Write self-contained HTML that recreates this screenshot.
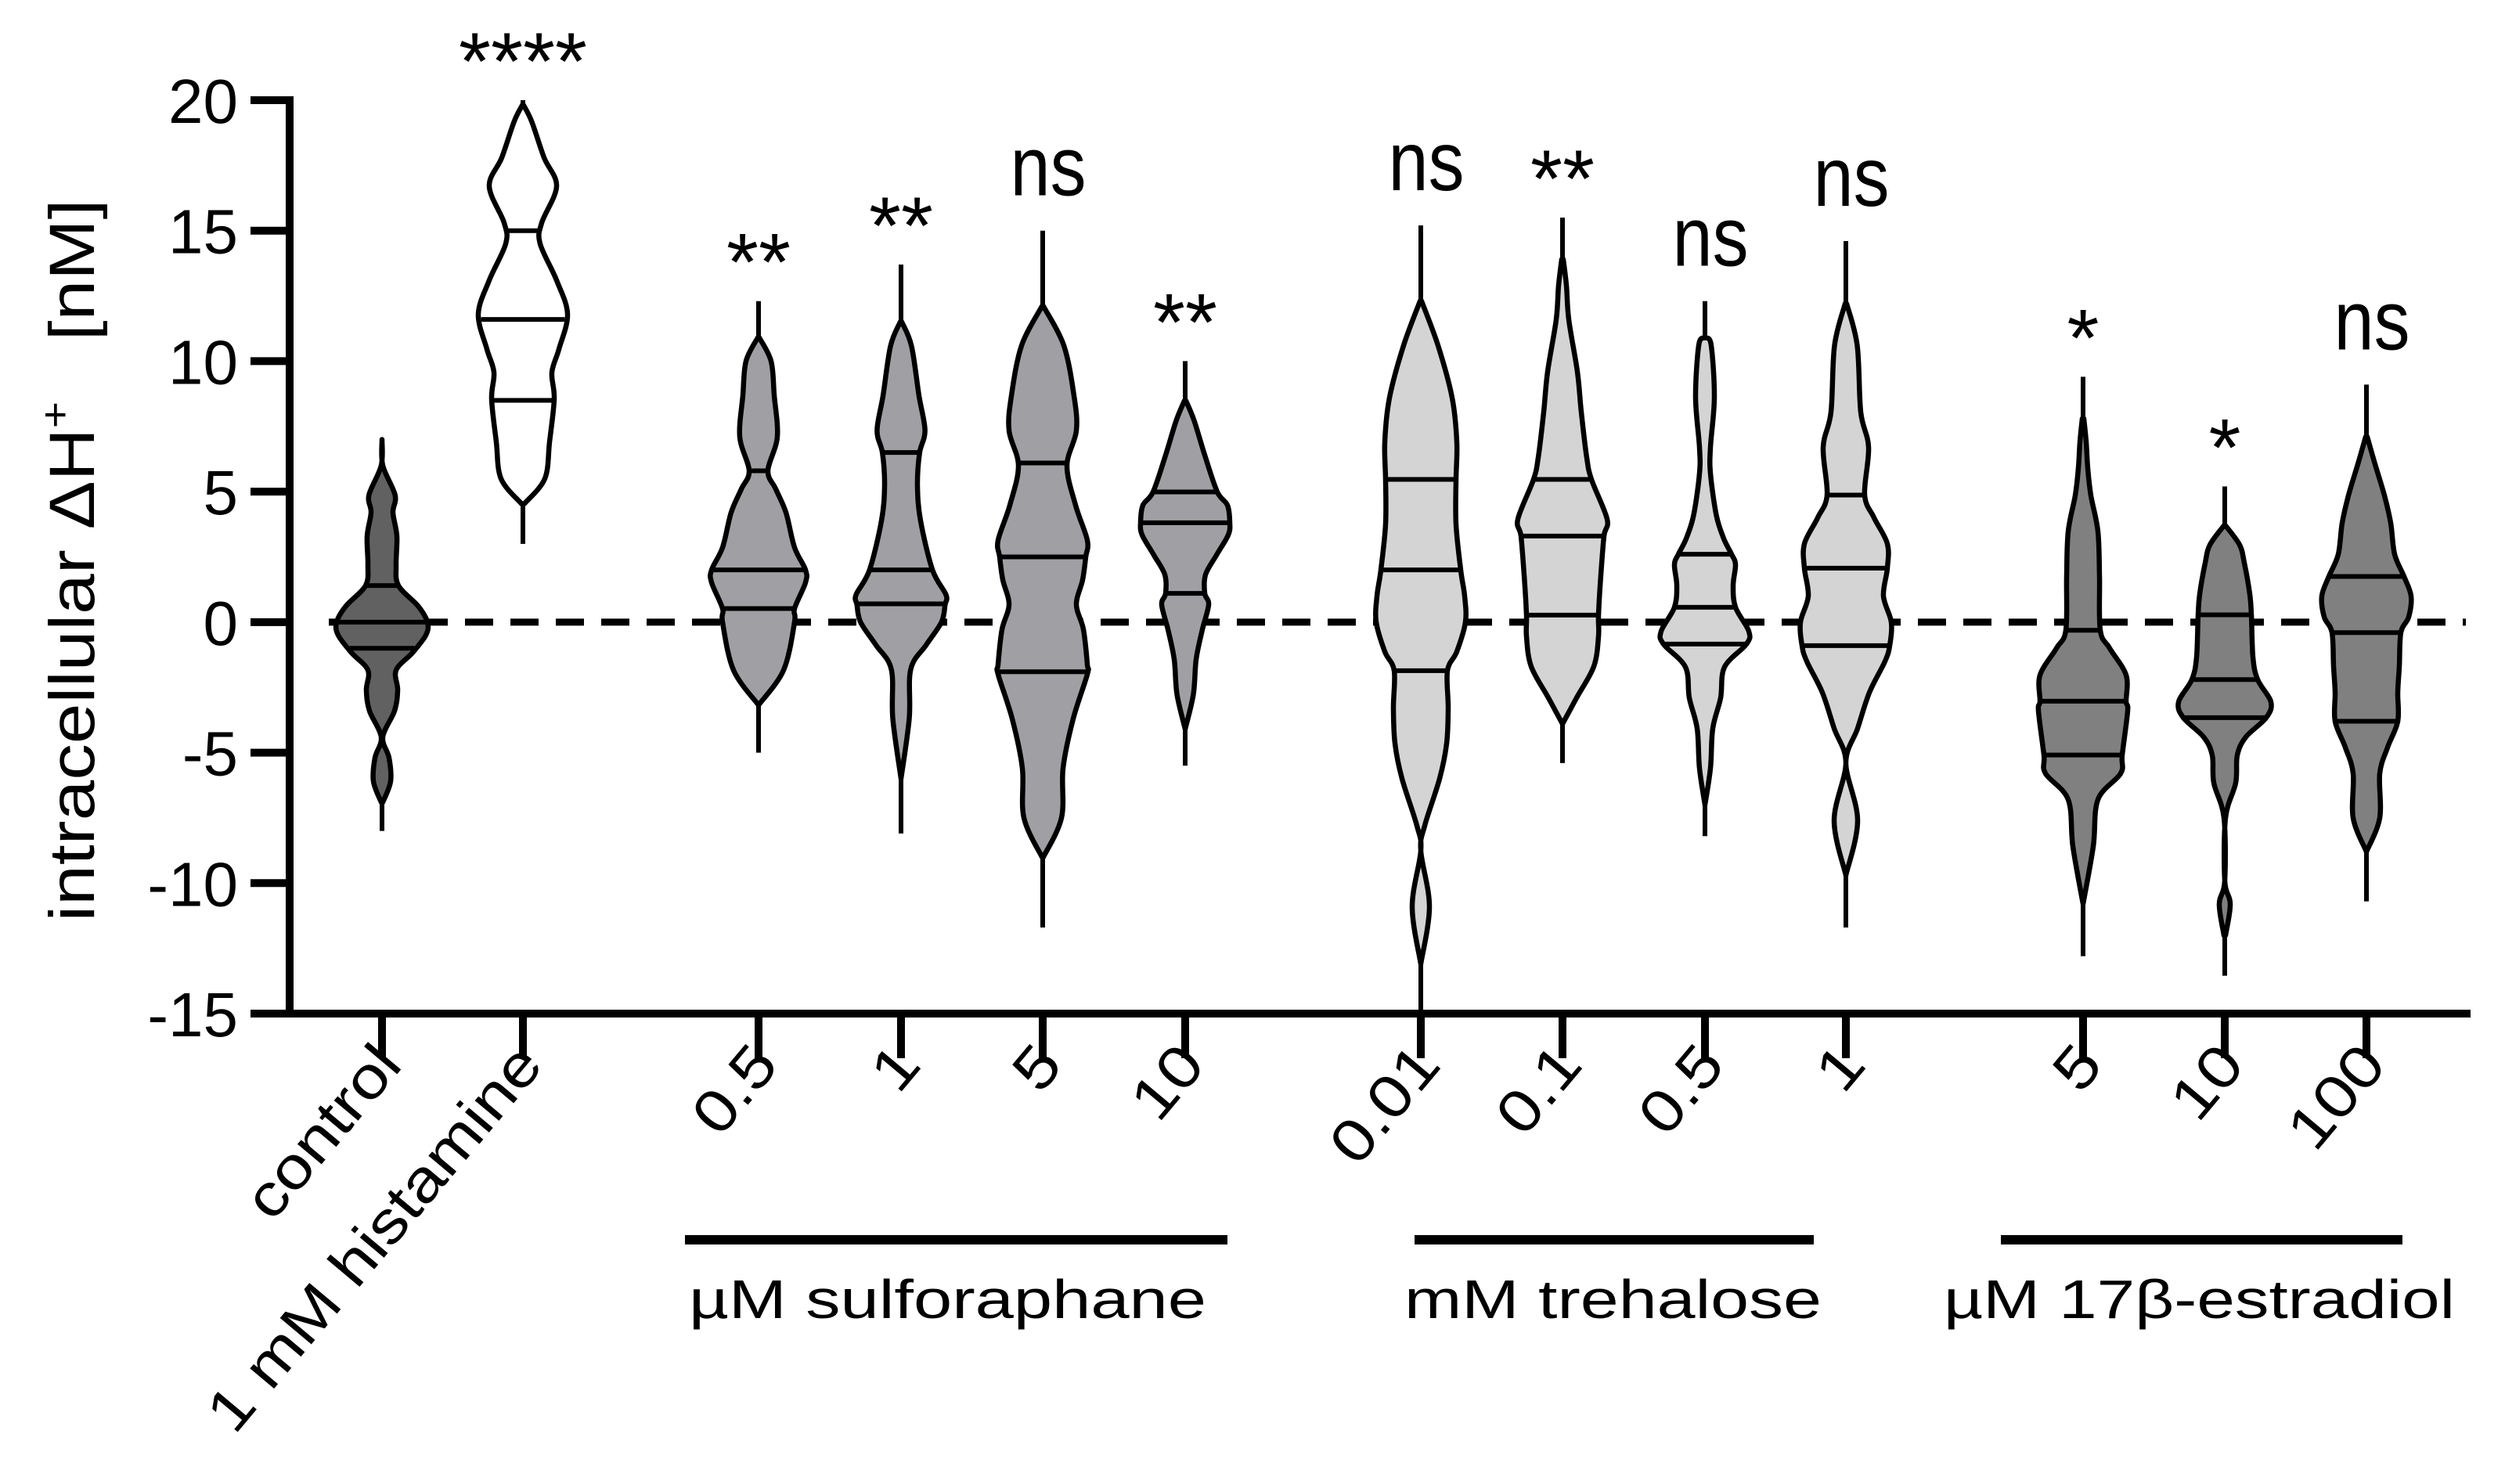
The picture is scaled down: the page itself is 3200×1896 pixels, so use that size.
<!DOCTYPE html>
<html><head><meta charset="utf-8"><style>
html,body{margin:0;padding:0;background:#fff}
svg{display:block}
text{font-family:"Liberation Sans",Arial,sans-serif;fill:#000}
</style></head><body>
<svg id="chart" xmlns="http://www.w3.org/2000/svg" width="3200" height="1896" viewBox="0 0 3200 1896">
<rect width="3200" height="1896" fill="#fff"/>
<g id="plot"></g>
</svg>
<script>
const categories = ["control","1 mM histamine","0.5","1","5","10","0.01","0.1","0.5","1","5","10","100"];
const annotations = ["","****","**","**","ns","**","ns","**","ns","ns","*","*","ns"];
const yTicks = [20,15,10,5,0,-5,-10,-15];
const groupLabels = ["µM sulforaphane","mM trehalose","µM 17β-estradiol"];
const fills = ["#616161","#ffffff","#a0a0a4","#a0a0a4","#a0a0a4","#a0a0a4","#d4d4d4","#d4d4d4","#d4d4d4","#d4d4d4","#808080","#808080","#808080"];
const mins = [-8.0,3.0,-5.0,-8.1,-11.7,-5.5,-15,-5.4,-8.2,-11.7,-12.8,-13.55,-10.7];
const maxs = [7.0,20.0,12.3,13.7,15.0,10.0,15.2,15.5,12.3,14.6,9.4,5.2,9.1];
const q1s = [-1.0,8.5,0.52,0.7,-1.9,1.1,-1.86,0.27,-0.84,-0.9,-5.09,-3.66,-3.8];
const medians = [0.0,11.6,2.0,2.0,2.5,3.81,2.0,3.3,0.57,2.07,-3.03,-2.2,-0.4];
const q3s = [1.4,15.0,5.8,6.5,6.1,4.99,5.47,5.47,2.6,4.87,-0.31,0.28,1.75];
const profVals = [
 [7.0,6.0,4.87,4.2,3.3,2.2,1.4,0.62,0.0,-0.5,-1.17,-1.84,-2.6,-3.4,-4.4,-5.2,-6.1,-6.9],
 [19.85,19.2,17.8,16.7,15.3,14.5,13.1,11.8,10.46,9.57,8.56,6.9,5.5,4.54],
 [10.9,10.0,8.7,7.1,5.8,5.1,4.2,2.86,2.0,1.52,0.52,0.0,-1.84,-3.18],
 [11.5,10.58,8.67,7.34,6.48,5.24,3.9,2.0,1.05,0.67,0.0,-0.86,-1.81,-3.7,-6.0],
 [12.1,10.6,8.67,7.34,6.0,4.48,3.14,2.5,1.62,0.67,-0.28,-1.62,-2.0,-3.7,-5.6,-7.5,-9.05],
 [8.48,7.72,6.4,4.99,4.48,3.81,3.34,2.57,1.82,1.1,0.67,-0.28,-1.43,-2.76,-4.1],
 [12.3,10.6,8.6,6.9,5.47,3.75,2.0,1.0,0.0,-1.13,-1.86,-3.3,-4.65,-6.0,-7.8,-8.76,-10.9,-13.1],
 [13.9,12.9,11.6,9.6,8.05,6.3,5.47,3.95,3.3,1.8,0.27,-0.55,-1.7,-2.9,-3.9],
 [10.9,10.6,8.6,6.7,5.7,4.1,3.2,2.6,2.2,1.4,0.57,-0.35,-0.84,-1.72,-2.9,-4.07,-5.6,-7.0],
 [12.2,10.6,8.05,6.7,4.87,4.0,3.0,2.07,1.0,0.0,-0.9,-1.5,-2.7,-4.07,-5.4,-7.6,-9.7],
 [7.8,6.9,5.9,4.85,3.47,1.75,-0.31,-1.0,-2.03,-3.03,-3.4,-5.09,-5.8,-6.8,-8.6,-10.8],
 [3.7,2.96,2.27,1.07,0.28,-1.34,-2.2,-3.06,-3.66,-4.4,-5.1,-6.16,-7.5,-9.9,-10.8,-12.0],
 [7.1,6.05,4.85,3.8,2.6,1.75,1.0,0.2,-0.4,-1.7,-2.7,-3.8,-4.8,-5.8,-7.5,-8.8]
];
const profDens = [
 [0,1,16.7,14,19,18,21,46,58,56,39,18,20,16,1,9,11,1],
 [0,11,27,43,24,22,43,57,46,37,40,34,28,2],
 [1,16,20,24,12,22,35,46,60,60,46,46,32,0],
 [1,13.4,23,30.6,23.7,21,24.9,40.2,57.4,56.3,51.7,32.5,12.4,10.5,0],
 [1,27,40,43,31,42,57,55,51,43,52,57,57,39,26,24,0],
 [1,11.5,25,41,54,57,55,40,26,25,30,22,14,10.5,0],
 [1,22,40,46,45,45,51,56,57,46,34,35,33,24,5,0,11,0],
 [1,5,8,19,24,31,37,57,53,49,46,46,40,18,0],
 [1,8,12,7,7,14.5,24,34,39,36,39,56,53,25,20,10,7,0],
 [1,14.5,19,29,24,36,53,53,48,58,56,50,30,15,0,15,0],
 [1,4,6,10,19,21,22,34,55,55,57,50,48,19,13,0],
 [1,19,25,32,34,36,42,59,53,27,16,14,1,0,7,1],
 [1,11,23,31,36,48,57,54,44,42,40,40,27,17,17,0]
];
const SVGNS="http://www.w3.org/2000/svg";
const plot=document.getElementById('plot');
const X0=370, XEND=3156, Y_TOP=128, Y_BOT=1295;
const catX=[488,668,969,1151,1332,1514,1815,1996,2178,2358,2661,2842,3023];
function yScale(v){return Y_TOP+(20-v)*(Y_BOT-Y_TOP)/35;}
function xScale(i){return catX[i];}
const densScale=1.0;
function mk(tag,attrs,parent){const e=document.createElementNS(SVGNS,tag);for(const k in attrs)e.setAttribute(k,attrs[k]);(parent||plot).appendChild(e);return e;}

const zl=mk('line',{x1:420,x2:3150,y1:yScale(0),y2:yScale(0),stroke:'#000','stroke-width':9,'stroke-dasharray':'36 22'});



function smoothPath(pts){
  let d='M'+pts[0][0]+','+pts[0][1];
  for(let i=0;i<pts.length-1;i++){
    const p0=pts[Math.max(0,i-1)],p1=pts[i],p2=pts[i+1],p3=pts[Math.min(pts.length-1,i+2)];
    const c1=[p1[0]+(p2[0]-p0[0])/6,p1[1]+(p2[1]-p0[1])/6];
    const c2=[p2[0]-(p3[0]-p1[0])/6,p2[1]-(p3[1]-p1[1])/6];
    d+=' C'+c1[0].toFixed(1)+','+c1[1].toFixed(1)+' '+c2[0].toFixed(1)+','+c2[1].toFixed(1)+' '+p2[0].toFixed(1)+','+p2[1].toFixed(1);
  }
  return d;
}
function halfWidthAt(i,v){
  const vs=profVals[i],ds=profDens[i];
  if(v>vs[0]||v<vs[vs.length-1])return 0;
  for(let k=0;k<vs.length-1;k++){
    if(v<=vs[k]&&v>=vs[k+1]){const t=(vs[k]-v)/(vs[k]-vs[k+1]||1);return (ds[k]+(ds[k+1]-ds[k])*t)*densScale;}
  }
  return 0;
}
categories.forEach((c,i)=>{
  const g=mk('g',{});
  
  
  const cx=xScale(i);
  mk('line',{x1:cx,x2:cx,y1:yScale(maxs[i]),y2:yScale(mins[i]),stroke:'#000','stroke-width':6},g);
  const right=profVals[i].map((v,k)=>[cx+profDens[i][k]*densScale,yScale(v)]);
  const left=profVals[i].map((v,k)=>[cx-profDens[i][k]*densScale,yScale(v)]).reverse();
  const d=smoothPath(right)+' L'+smoothPath(left).slice(1)+' Z';
  const body=mk('path',{d:d,fill:fills[i],stroke:'#000','stroke-width':6.5,'stroke-linejoin':'round'},g);
  
  
  [q1s[i],medians[i],q3s[i]].forEach((q,k)=>{
    const hw=halfWidthAt(i,q);
    const ln=mk('line',{x1:cx-hw+2,x2:cx+hw-2,y1:yScale(q),y2:yScale(q),stroke:'#000','stroke-width':6},g);
    
    
  });
});

const ya=mk('line',{x1:X0,x2:X0,y1:Y_TOP-5,y2:Y_BOT+5,stroke:'#000','stroke-width':10});


const xa=mk('line',{x1:X0-5,x2:XEND,y1:Y_BOT,y2:Y_BOT,stroke:'#000','stroke-width':10});


yTicks.forEach(t=>{
  const y=yScale(t);
  const tk=mk('line',{x1:320,x2:X0,y1:y,y2:y,stroke:'#000','stroke-width':10});
  
  
  const lb=mk('text',{x:304,y:y+29,'font-size':80,'text-anchor':'end'});
  lb.textContent=t;
  
  
});
const emW={"0":.556,"1":.556,"5":.556,".":.278," ":.278,c:.5,o:.556,n:.556,t:.278,r:.333,l:.222,m:.833,M:.833,h:.556,i:.222,s:.5,a:.556,e:.556};
categories.forEach((c,i)=>{
  const cx=xScale(i);
  const tk=mk('line',{x1:cx,x2:cx,y1:Y_BOT,y2:1352,stroke:'#000','stroke-width':10});
  
  
  let w=0;for(const ch of c)w+=(emW[ch]||.556);
  const px=cx+28, py=1362;
  const lb=mk('text',{x:px,y:py,'font-size':76,'text-anchor':'end',transform:'rotate(-50 '+px+' '+py+')',textLength:(w*76*1.15).toFixed(0),lengthAdjust:'spacingAndGlyphs'});
  lb.textContent=c;
  
  
  const a=annotations[i];
  if(a){
    const isNs=a==='ns';
    const top=yScale(maxs[i]);
    const yy=isNs?top-45:top-14;
    const an=mk('text',{x:cx+(isNs?7:0),y:yy,'font-size':isNs?108:104,'text-anchor':'middle',textLength:isNs?97:(a.length*41),lengthAdjust:'spacingAndGlyphs'});
    an.textContent=a;
    
    
  }
});
const groupBars=[[875,1568,880,661],[1807,2317,1794,533],[2556,3069,2483,653]];
groupLabels.forEach((g,k)=>{
  const b=groupBars[k];
  const bar=mk('line',{x1:b[0],x2:b[1],y1:1584,y2:1584,stroke:'#000','stroke-width':12});
  
  
  const t=mk('text',{x:b[2],y:1684,'font-size':70,textLength:b[3],lengthAdjust:'spacingAndGlyphs'});
  t.textContent=g;
  
  
});
const yt=mk('text',{x:0,y:0,'font-size':82,'text-anchor':'middle',transform:'translate(120,716) rotate(-90)',textLength:923,lengthAdjust:'spacingAndGlyphs'});
yt.innerHTML='intracellular ΔH<tspan dy="-32" font-size="52">+</tspan><tspan dy="32">\u00a0\u00a0\u00a0[nM]</tspan>';


</script>
</body></html>
